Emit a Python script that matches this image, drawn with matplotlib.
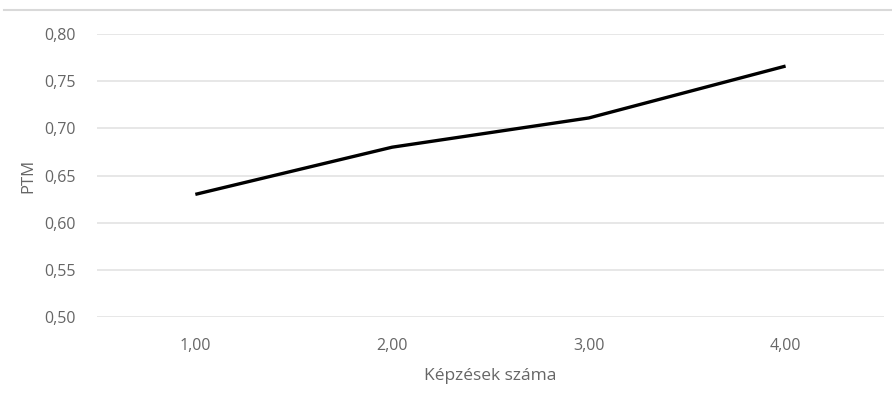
import matplotlib.pyplot as plt
from matplotlib.lines import Line2D
from matplotlib.ticker import FixedLocator, FuncFormatter

# data
kepzesek = [1.0, 2.0, 3.0, 4.0]
ptm = [0.630, 0.680, 0.711, 0.766]
yticks = [0.50, 0.55, 0.60, 0.65, 0.70, 0.75, 0.80]

plt.rcParams['font.family'] = ['Open Sans', 'DejaVu Sans']

fig = plt.figure(figsize=(8.92, 4.08), dpi=100)
ax = fig.add_axes([0.1087, 0.223, 0.8823, 0.6937])

ax.plot(kepzesek, ptm, color='black', linewidth=2.4, solid_capstyle='butt')

ax.set_xlim(0.5, 4.5)
ax.set_ylim(0.50, 0.80)
ax.xaxis.set_major_locator(FixedLocator(kepzesek))
ax.yaxis.set_major_locator(FixedLocator(yticks))
comma = FuncFormatter(lambda v, p: f"{v:.2f}".replace('.', ','))
ax.xaxis.set_major_formatter(comma)
ax.yaxis.set_major_formatter(comma)

ax.grid(axis='y', color='#e3e3e3', linewidth=1.2)
ax.set_axisbelow(True)
for s in ax.spines.values():
    s.set_visible(False)
ax.tick_params(length=0, labelsize=11.5, labelcolor='#666666')
ax.tick_params(axis='y', pad=15)
ax.tick_params(axis='x', pad=15)

ax.set_xlabel('Képzések száma', fontsize=12.5, color='#666666', labelpad=10)
ax.set_ylabel('PTM', fontsize=12, color='#666666', labelpad=6)

# thin grey border at the top of the picture
fig.add_artist(Line2D([0.005, 1.0], [0.976, 0.976], transform=fig.transFigure,
                      color='#d9d9d9', linewidth=1.5))

fig.savefig('out.png', dpi=100)
